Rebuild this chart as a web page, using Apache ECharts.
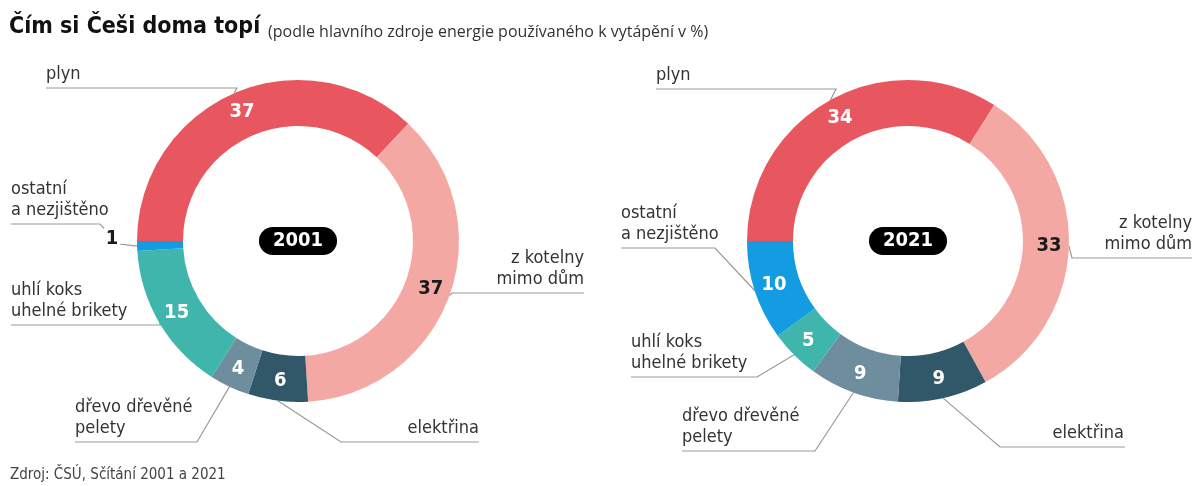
<!DOCTYPE html>
<html>
<head>
<meta charset="utf-8">
<title>Čím si Češi doma topí</title>
<script src="https://cdn.jsdelivr.net/npm/echarts@6/dist/echarts.min.js"></script>
<style>
  html, body { margin: 0; padding: 0; background: #fff; }
  #chart { width: 1199px; height: 486px; }
</style>
</head>
<body>
<div id="chart"></div>
<script>
// data
const categories = ['plyn', 'z kotelny mimo dům', 'elektřina', 'dřevo dřevěné pelety', 'uhlí koks uhelné brikety', 'ostatní a nezjištěno'];
const nameLabels = ['plyn', 'z kotelny\nmimo dům', 'elektřina', 'dřevo dřevěné\npelety', 'uhlí koks\nuhelné brikety', 'ostatní\na nezjištěno'];
const values2001 = [37, 37, 6, 4, 15, 1];
const values2021 = [34, 33, 9, 9, 5, 10];
const years = ['2001', '2021'];

// vzhled
const colors = ['#e85760', '#f4a8a4', '#305868', '#6e8e9e', '#3fb5ac', '#149ce2'];
const valueColors = ['#fff', '#1a1a1a', '#fff', '#fff', '#fff', '#fff'];
const NARROW = '"Liberation Sans Narrow", "DejaVu Sans Condensed", sans-serif';
const centers = [[298, 241], [908, 241]];
const radius = [115, 161];

// umístění popisků: x textu, y podtržení, zarovnání, body čáry za kotvou
const nameLayout2001 = [
    { x: 46, y: 88, align: 'left', pts: [[237, 88], [46, 88]] },
    { x: 584, y: 293, align: 'right', pts: [[452, 293], [584, 293]] },
    { x: 479, y: 442, align: 'right', pts: [[341, 442], [479, 442]] },
    { x: 75, y: 442, align: 'left', pts: [[197, 442], [75, 442]] },
    { x: 11, y: 325, align: 'left', pts: [[161, 325], [11, 325]] },
    { x: 11, y: 224, align: 'left', pts: [[119, 244], [100, 224], [11, 224]] }
];
const nameLayout2021 = [
    { x: 656, y: 89, align: 'left', pts: [[836, 89], [656, 89]] },
    { x: 1192, y: 258, align: 'right', pts: [[1072, 258], [1192, 258]] },
    { x: 1124, y: 447, align: 'right', pts: [[1000, 447], [1125, 447]] },
    { x: 682, y: 451, align: 'left', pts: [[815, 451], [682, 451]] },
    { x: 631, y: 377, align: 'left', pts: [[757, 377], [631, 377]] },
    { x: 621, y: 248, align: 'left', pts: [[715, 248], [621, 248]] }
];
// malé hodnoty se kreslí mimo prstenec
const outsideValuePos = [[112, 239], [112, 239]];

function donut(values, k, nameLayout) {
    const center = centers[k];
    const data = values.map((v, i) => ({
        name: categories[i],
        value: v,
        itemStyle: { color: colors[i] },
        label: v < 3
            ? { color: '#1a1a1a', backgroundColor: '#fff', padding: [1, 2] }
            : { color: valueColors[i] }
    }));
    const valueSeries = {
        type: 'pie',
        z: 3,
        silent: true,
        center: center,
        radius: radius,
        startAngle: 180,
        clockwise: true,
        avoidLabelOverlap: false,
        data: data,
        label: {
            show: true,
            position: 'inside',
            formatter: '{c}',
            fontFamily: NARROW,
            fontWeight: 'bold',
            fontSize: 20
        },
        labelLine: { show: false },
        labelLayout: p => values[p.dataIndex] < 3
            ? { x: outsideValuePos[k][0], y: outsideValuePos[k][1], align: 'center', verticalAlign: 'middle' }
            : null
    };
    const nameSeries = {
        type: 'pie',
        z: 2,
        silent: true,
        center: center,
        radius: radius,
        startAngle: 180,
        clockwise: true,
        avoidLabelOverlap: false,
        data: values.map((v, i) => ({ name: nameLabels[i], value: v })),
        itemStyle: { color: 'rgba(0,0,0,0)' },
        label: {
            show: true,
            position: 'outside',
            formatter: '{b}',
            fontFamily: NARROW,
            fontSize: 18,
            lineHeight: 21,
            color: '#333'
        },
        labelLine: {
            show: true,
            length: 10,
            length2: 10,
            lineStyle: { color: '#999', width: 1.2 }
        },
        labelLayout: p => {
            const L = nameLayout[p.dataIndex];
            const anchor = p.labelLinePoints ? p.labelLinePoints[0] : L.pts[0];
            return {
                x: L.x,
                y: L.y - 3,
                align: L.align,
                verticalAlign: 'bottom',
                labelLinePoints: [anchor].concat(L.pts)
            };
        }
    };
    return [nameSeries, valueSeries];
}

const chart = echarts.init(document.getElementById('chart'));

const option = {
    backgroundColor: '#fff',
    animation: false,
    title: [
        {
            text: 'Čím si Češi doma topí',
            left: 9, top: 14, padding: 0,
            textStyle: { fontFamily: NARROW, fontWeight: 'bold', fontSize: 23, lineHeight: 27, color: '#111' }
        },
        {
            text: '(podle hlavního zdroje energie používaného k vytápění v %)',
            left: 268, top: 23, padding: 0,
            textStyle: { fontFamily: '"Open Sans", sans-serif', fontWeight: 'normal', fontSize: 16, lineHeight: 19, color: '#333' }
        },
        {
            text: 'Zdroj: ČSÚ, Sčítání 2001 a 2021',
            left: 10, top: 466, padding: 0,
            textStyle: { fontFamily: NARROW, fontWeight: 'normal', fontSize: 15, lineHeight: 18, color: '#444' }
        }
    ],
    graphic: years.map((y, k) => ({
        type: 'text',
        x: centers[k][0],
        y: centers[k][1],
        z: 10,
        style: {
            text: y,
            align: 'center',
            verticalAlign: 'middle',
            fill: '#fff',
            fontFamily: NARROW,
            fontWeight: 'bold',
            fontSize: 20,
            backgroundColor: '#000',
            padding: [4, 14, 4, 14],
            borderRadius: 14
        }
    })),
    series: [].concat(
        donut(values2001, 0, nameLayout2001),
        donut(values2021, 1, nameLayout2021)
    )
};

chart.setOption(option);
</script>
</body>
</html>
